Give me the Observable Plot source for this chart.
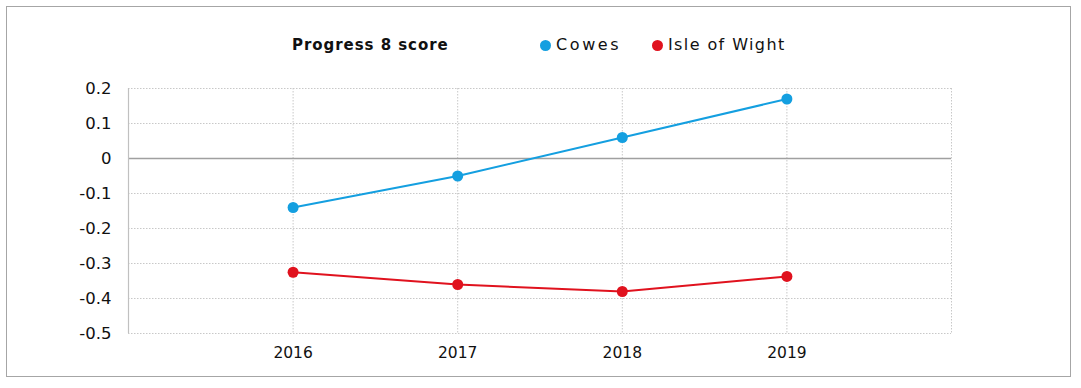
<!DOCTYPE html>
<html>
<head>
<meta charset="utf-8">
<script src="https://cdn.jsdelivr.net/npm/d3@7"></script>
<script src="https://cdn.jsdelivr.net/npm/@observablehq/plot@0.6"></script>
<style>
  html, body { margin: 0; padding: 0; background: #fff; }
  #wrap { position: relative; width: 1081px; height: 388px; font-family: "DejaVu Sans", sans-serif; }
  #frame { position: absolute; left: 6px; top: 6px; width: 1063px; height: 369px; border: 1.5px solid #a6a6a6; box-sizing: content-box; }
  .hdr { position: absolute; top: 35px; height: 20px; line-height: 20px; color: #111; white-space: nowrap; }
  #title { left: 292px; font-weight: bold; font-size: 15px; letter-spacing: 0.95px; }
  .lab { font-size: 16px; }
  .dot { position: absolute; top: 39.5px; width: 11px; height: 11px; border-radius: 50%; }
  #chart { position: absolute; left: 0; top: 0; }
</style>
</head>
<body>
<div id="wrap">
  <div id="frame"></div>
  <div id="chart"></div>
</div>
<script>
const years = [2016, 2017, 2018, 2019];
const cowes = [-0.14, -0.05, 0.06, 0.17];
const isleOfWight = [-0.325, -0.36, -0.38, -0.337];
const seriesNames = ["Cowes", "Isle of Wight"];
const seriesColors = ["#149fe0", "#e0121e"];
const yTicks = [0.2, 0.1, 0, -0.1, -0.2, -0.3, -0.4, -0.5];
const gridYears = [2016, 2017, 2018, 2019, 2020];
const title = "Progress 8 score";

const data = [
  ...years.map((y, i) => ({year: y, value: cowes[i], series: seriesNames[0]})),
  ...years.map((y, i) => ({year: y, value: isleOfWight[i], series: seriesNames[1]}))
];

const fmt = d => d === 0 ? "0" : d.toFixed(1);

const plot = Plot.plot({
  width: 1081,
  height: 388,
  marginLeft: 128,
  marginRight: 130,
  marginTop: 88,
  marginBottom: 55,
  style: {fontFamily: "DejaVu Sans, sans-serif", fontSize: "16px", color: "#111", background: "transparent"},
  x: {domain: [2015, 2020], ticks: years, tickFormat: "d", tickSize: 0, tickPadding: 13, label: null},
  y: {domain: [-0.5, 0.2], ticks: yTicks, tickFormat: fmt, tickSize: 0, tickPadding: 17, label: null},
  color: {domain: seriesNames, range: seriesColors},
  marks: [
    Plot.gridY(yTicks.filter(d => d !== 0), {stroke: "#c8c8c8", strokeOpacity: 1, strokeDasharray: "1.5,1.5"}),
    Plot.gridX(gridYears, {stroke: "#c8c8c8", strokeOpacity: 1, strokeDasharray: "1.5,1.5"}),
    Plot.ruleY([0], {stroke: "#a0a0a0", strokeWidth: 1.3}),
    Plot.ruleX([2015], {stroke: "#c0c0c0", strokeWidth: 1.2}),
    Plot.line(data, {x: "year", y: "value", stroke: "series", strokeWidth: 2}),
    Plot.dot(data, {x: "year", y: "value", fill: "series", r: 5.5}),
    Plot.axisY({ticks: yTicks, tickFormat: fmt, tickSize: 0, tickPadding: 17, fontSize: 16.5}),
    Plot.axisX({ticks: years, tickFormat: "d", tickSize: 0, tickPadding: 13, fontSize: 15.5})
  ]
});
document.getElementById("chart").appendChild(plot);

const wrap = document.getElementById("wrap");
const t = document.createElement("div");
t.id = "title";
t.className = "hdr";
t.textContent = title;
wrap.appendChild(t);
const dotLeft = [540, 652];
const labLeft = [556, 668];
const labSpacing = [2.6, 1.4];
seriesNames.forEach((name, i) => {
  const dot = document.createElement("div");
  dot.className = "dot";
  dot.style.left = dotLeft[i] + "px";
  dot.style.background = seriesColors[i];
  wrap.appendChild(dot);
  const lab = document.createElement("div");
  lab.className = "hdr lab";
  lab.style.left = labLeft[i] + "px";
  lab.style.letterSpacing = labSpacing[i] + "px";
  lab.textContent = name;
  wrap.appendChild(lab);
});
</script>
</body>
</html>
